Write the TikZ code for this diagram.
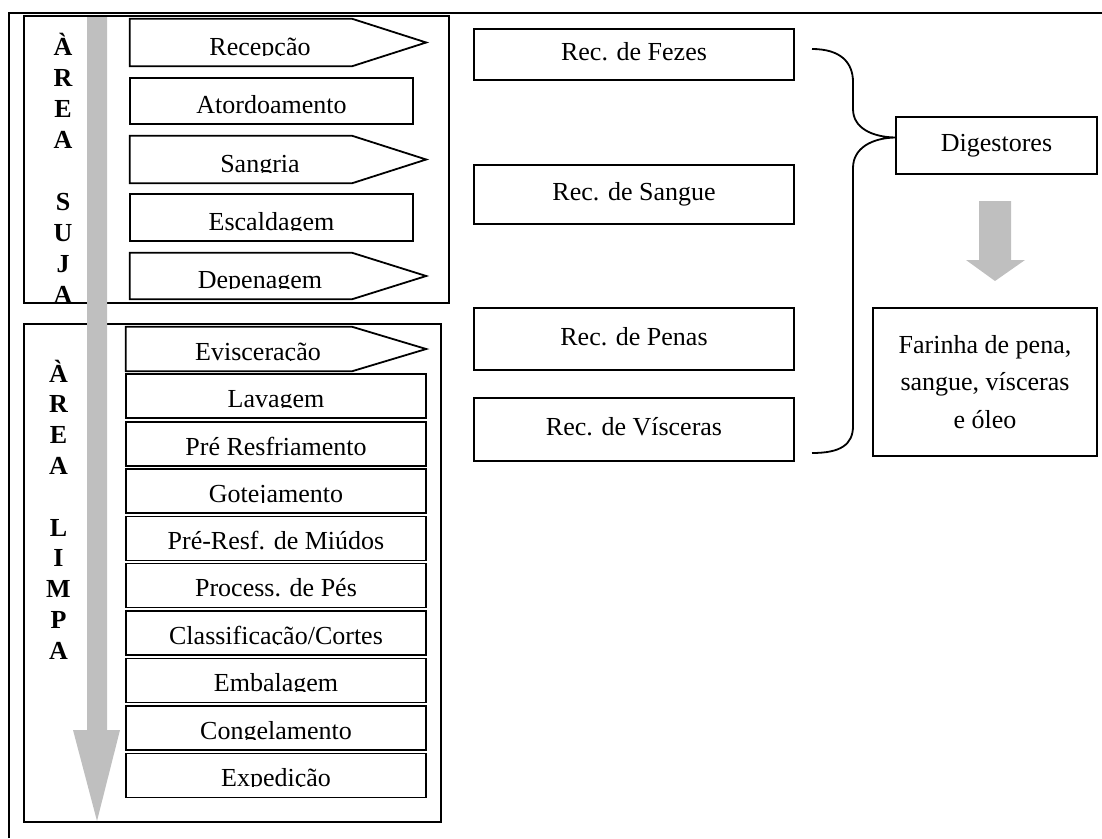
\documentclass[tikz,border=0pt]{standalone}
\usepackage{fontspec}
\setmainfont{Liberation Serif}

\definecolor{flowgray}{RGB}{191,191,191}
\newcommand{\stepfont}{\fontsize{26}{30}\selectfont}
\newcommand{\areafont}{\fontsize{26}{30}\selectfont\bfseries}

\tikzset{
  boxline/.style={draw, line width=1.8pt},
  cliptext/.style={path picture={
      \clip ([yshift=11pt]path picture bounding box.south west) rectangle (path picture bounding box.north east);
      \node[anchor=base, font=\stepfont, inner sep=0pt] (steptext) at ([yshift=11pt]path picture bounding box.south) {#1};}},
  upbox/.style={boxline, inner sep=0pt, minimum width=283pt, minimum height=46pt},
  lowbox/.style={boxline, inner sep=0pt, minimum width=300pt, minimum height=44pt},
  arrowstep/.style={inner sep=0pt, minimum width=260pt, minimum height=47pt},
  recbox/.style={boxline, inner sep=0pt, minimum width=320pt, font=\stepfont, text height=17.8pt, text depth=5.7pt},
  arealetter/.style={anchor=base, inner sep=0pt, font=\areafont},
}

\begin{document}
\begin{tikzpicture}[x=1pt,y=-1pt]
\useasboundingbox (0,0) rectangle (1102,838);

% outer frame
\draw[line width=1.8pt] (9,838) -- (9,13) -- (1102,13);

% the two areas
\draw[boxline] (24,16) rectangle (449,303);
\draw[boxline] (24,324) rectangle (441,822);

\foreach \ch [count=\i from 0] in {À,R,E,A,{},S,U,J,A}
  \node[arealetter] (suja\i) at (63,{55+31*\i}) {\ch};
\foreach \ch [count=\i from 0] in {À,R,E,A,{},L,I,M,P,A}
  \node[arealetter] (limpa\i) at (58.5,{382+30.8*\i}) {\ch};

% area suja
\node[arrowstep, cliptext=Recepção] (recepcao) at (260,42.5) {};
\node[upbox, cliptext=Atordoamento] (atordoamento) at (271.5,101) {};
\node[arrowstep, cliptext=Sangria] (sangria) at (260,159.5) {};
\node[upbox, minimum height=47pt, cliptext=Escaldagem] (escaldagem) at (271.5,217.5) {};
\node[arrowstep, minimum height=46pt, cliptext=Depenagem] (depenagem) at (260,276) {};

% area limpa
\node[arrowstep, minimum width=264pt, minimum height=44pt, cliptext=Evisceração] (evisceracao) at (258,349) {};
\node[lowbox, cliptext=Lavagem] (lavagem) at (276,396) {};
\node[lowbox, cliptext=Pré Resfriamento] (preresfriamento) at (276,444) {};
\node[lowbox, cliptext=Gotejamento] (gotejamento) at (276,491) {};
\node[lowbox, cliptext=Pré-Resf. de Miúdos] (miudos) at (276,538.5) {};
\node[lowbox, cliptext=Process. de Pés] (pes) at (276,585.5) {};
\node[lowbox, cliptext={Classificação/Cortes}] (cortes) at (276,633) {};
\node[lowbox, cliptext=Embalagem] (embalagem) at (276,680.5) {};
\node[lowbox, cliptext=Congelamento] (congelamento) at (276,728) {};
\node[lowbox, cliptext=Expedição] (expedicao) at (276,775.5) {};

\foreach \n in {recepcao,sangria,depenagem,evisceracao}
  \draw[boxline] (\n.north west) -- ([xshift=-38pt]\n.north east) -- ([xshift=36pt]\n.east)
    -- ([xshift=-38pt]\n.south east) -- (\n.south west) -- cycle;

% residuos
\node[recbox, minimum height=51pt] (fezes) at (634,54.5) {Rec. de Fezes};
\node[recbox, minimum height=59pt] (sangue) at (634,194.5) {Rec. de Sangue};
\node[recbox, minimum height=62pt] (penas) at (634,339) {Rec. de Penas};
\node[recbox, minimum height=63pt] (visceras) at (634,429.5) {Rec. de Vísceras};

\node[recbox, minimum width=201pt, minimum height=57pt] (digestores) at (996.5,145.5) {Digestores};
\node[boxline, minimum width=224pt, minimum height=148pt, align=center,
  font=\fontsize{26}{37.5}\selectfont] (farinha) at (985,382) {Farinha de pena,\\sangue, vísceras\\e óleo};

\coordinate (bracetop) at (812,49);
\coordinate (bracebot) at (812,453);
\coordinate (bracetip) at ([yshift=8pt]digestores.west);
\draw[line width=1.8pt] (bracetop) .. controls (840,49) and (853,62) .. (853,82) -- (853,109)
  .. controls (853,128) and (872,137) .. (bracetip)
  .. controls (872,138) and (853,148) .. (853,168) -- (853,426)
  .. controls (853,445) and (840,453) .. (bracebot);

% gray flow arrows
\fill[flowgray] (87,17) -- (107,17) -- (107,730) -- (120,730) -- (97,821) -- (73,730) -- (87,730) -- cycle;
\fill[flowgray] (979,201) -- (1011,201) -- (1011,260) -- (1025,260) -- (995,281) -- (966,260) -- (979,260) -- cycle;
\end{tikzpicture}
\end{document}
